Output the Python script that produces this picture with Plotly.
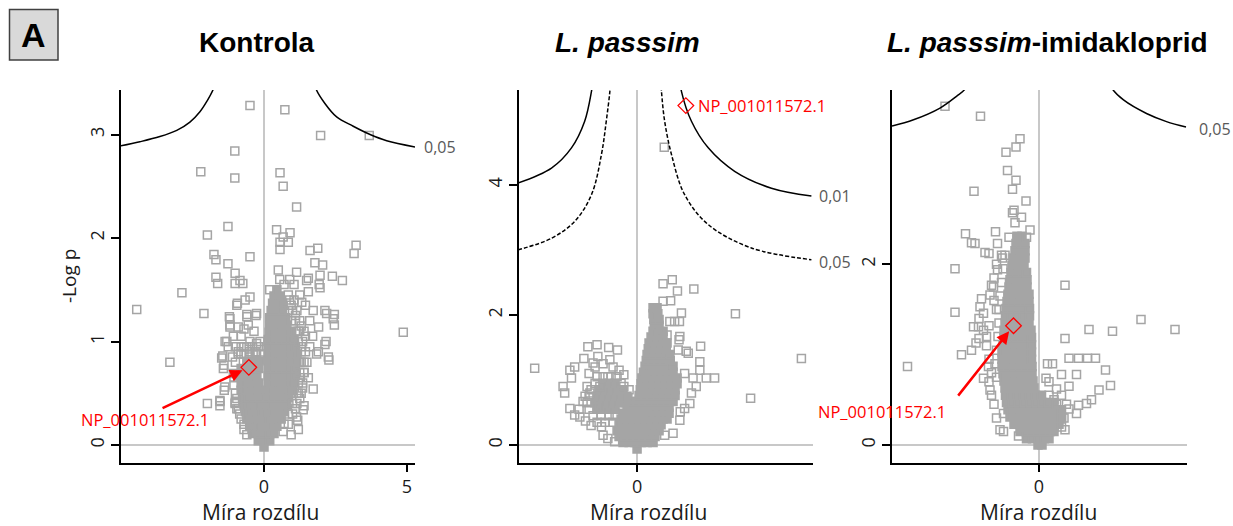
import plotly.graph_objects as go

W, H = 1233, 526
GRAY = '#a5a5a5'

# ---------------- Panel 1: Kontrola ----------------
k_out_x = [-0.49,0.73,1.98,3.68,-1.02,-2.21,-1.02,0.56,0.67,1.14,-1.26,-1.98,0.44,0.91,0.67,0.56,0.85,0.56,1.61,1.88,3.22,3.15,-1.75,-1.68,-0.49,-1.26,1.78,2.05,-1.01,-0.84,-1.68,-1.62,-1.01,-0.74,0.50,1.14,1.55,1.96,2.39,2.74,1.93,-2.87,-4.45,-2.10,-0.49,-0.66,-0.93,-0.26,-0.60,-1.21,-1.19,-0.55,2.13,2.46,2.46,4.87,-1.30,-1.44,-1.40,-3.29,2.25,2.17,1.90,1.72,-1.37,-1.98,-1.54,-1.54,-1.01,1.40,1.14,0.67,-0.26,
            1.72,2.19,2.42,1.91,2.13,1.84,2.27,1.37,1.18,1.49,1.96,1.55,1.32,-1.36,-1.25,-1.48,-1.42,-1.19,-1.19,-0.90,-0.60,-0.28,-0.95,-1.07,-0.49,-0.14,-0.26,-1.07,-1.39,-1.01,-0.90,-1.54,
            1.30,1.45,1.60,1.50,1.40,1.55,1.35,1.25,1.60,1.45,1.25,1.05,0.90,1.70,1.20,0.95,-0.70,-0.90,-1.10,-0.50,-0.80,-0.35,-0.70,
            1.10,1.20,1.25,1.30,1.30,1.20,1.10,0.95,0.85,0.70,0.55,0.20,-1.00,-1.05,-1.00,-0.80,-0.50,-0.30,-0.15,-0.95,-0.80,-0.70]
k_out_y = [3.28,3.24,2.99,2.99,2.84,2.64,2.58,2.63,2.50,2.30,2.11,2.03,2.08,2.05,2.01,1.96,1.96,1.89,1.88,1.90,1.93,1.85,1.84,1.79,1.82,1.75,1.76,1.74,1.66,1.59,1.62,1.56,1.56,1.56,1.69,1.67,1.61,1.64,1.63,1.59,1.55,1.47,1.31,1.27,1.43,1.40,1.37,1.27,1.26,1.24,1.16,1.16,1.30,1.26,1.16,1.09,1.00,0.86,0.77,0.80,0.85,1.00,0.90,0.54,0.56,0.40,0.43,0.38,0.41,0.38,0.27,0.13,0.98,
            1.30,1.27,1.22,1.14,0.97,0.88,0.82,0.34,0.24,1.59,1.52,1.48,1.38,1.00,0.95,0.84,0.74,1.22,1.14,1.14,1.24,1.25,1.35,1.05,1.00,1.00,0.89,0.69,0.53,0.40,0.35,0.42,
            1.15,1.05,0.95,0.80,0.70,0.65,0.55,0.45,1.20,1.35,1.45,1.55,1.60,1.05,0.15,0.10,0.95,0.90,0.85,0.90,1.05,1.10,1.12,
            0.35,0.50,0.65,0.80,0.95,1.10,1.25,1.35,1.45,1.55,1.60,1.50,0.50,0.65,0.80,0.88,0.85,0.90,0.82,0.35,0.25,0.15]
k_core = [
    (-0.02, [0.0]),
    (0.04, [-0.2, 0.0, 0.2]),
    (0.11, [-0.4, -0.2, 0.0, 0.2, 0.35]),
    (0.18, [-0.5, -0.3, -0.1, 0.1, 0.3, 0.45]),
    (0.25, [-0.6, -0.4, -0.2, 0.0, 0.2, 0.4, 0.6]),
    (0.32, [-0.65, -0.45, -0.25, -0.05, 0.15, 0.35, 0.55, 0.7]),
    (0.39, [-0.7, -0.5, -0.3, -0.1, 0.1, 0.3, 0.5, 0.7, 0.8]),
    (0.46, [-0.75, -0.55, -0.35, -0.15, 0.1, 0.3, 0.5, 0.7, 0.85]),
    (0.53, [-0.8, -0.6, -0.4, -0.2, 0.12, 0.3, 0.5, 0.7, 0.9, 1.0]),
    (0.60, [-0.8, -0.6, -0.4, -0.2, 0.15, 0.35, 0.55, 0.75, 0.95, 1.05]),
    (0.67, [-0.85, -0.65, -0.45, -0.25, 0.15, 0.35, 0.55, 0.75, 0.95, 1.1]),
    (0.74, [-0.8, -0.6, -0.4, -0.2, 0.15, 0.35, 0.55, 0.75, 0.95, 1.1]),
    (0.81, [-0.6, -0.4, -0.2, 0.15, 0.35, 0.55, 0.75, 0.95, 1.15]),
    (0.88, [0.15, 0.35, 0.55, 0.75, 0.95, 1.15]),
    (0.95, [0.15, 0.35, 0.55, 0.75, 0.95, 1.1]),
    (1.02, [0.15, 0.35, 0.55, 0.75, 0.95, 1.05]),
    (1.09, [0.18, 0.35, 0.55, 0.75, 0.95]),
    (1.16, [0.2, 0.4, 0.6, 0.8]),
    (1.23, [0.2, 0.4, 0.6, 0.75]),
    (1.30, [0.25, 0.45, 0.65]),
    (1.37, [0.3, 0.5, 0.65]),
    (1.44, [0.35, 0.55]),
    (1.50, [0.45]),
]
k_semi = [
    (1.40, [0.9, 1.05]),
    (1.30, [0.85, 1.0, 1.15]),
    (1.20, [0.95, 1.1, 1.25]),
    (1.10, [1.1, 1.25, 1.4]),
    (1.00, [1.2, 1.35]),
    (0.90, [1.3, 1.45]),
    (0.80, [1.25, 1.4]),
    (0.70, [1.25, 1.4]),
    (0.60, [1.2, 1.35]),
    (0.50, [1.15, 1.3]),
    (0.40, [1.0, 1.15]),
    (0.30, [0.85, 1.0]),
    (0.20, [0.7, 0.85]),
    (0.88, [-0.9, -0.7, -0.5, -0.3, -0.1]),
    (0.95, [-1.0, -0.8, -0.6, -0.4, -0.2]),
    (0.58, [-1.05]),
    (0.45, [-0.95]),
    (0.30, [-0.85]),
    (0.20, [-0.7]),
    (0.10, [-0.6]),
]
k_curve_l_x = [-5.01, -4.34, -3.64, -3.05, -2.59, -2.24, -2.0, -1.77, -1.6]
k_curve_l_y = [2.89, 2.93, 2.98, 3.04, 3.12, 3.22, 3.32, 3.44, 3.6]
k_curve_r_x = [1.7, 1.82, 2.13, 2.54, 3.12, 3.71, 4.29, 5.28]
k_curve_r_y = [3.6, 3.44, 3.30, 3.17, 3.08, 3.0, 2.94, 2.88]
k_np = (-0.53, 0.75)

# ---------------- Panel 2: L. passsim ----------------
p_out_x = [-2.56,4.11,2.46,2.84,1.42,0.88,0.65,1.01,0.65,0.84,1.11,1.59,1.07,1.94,1.73,1.57,1.57,1.28,1.48,1.32,1.07,0.90,0.69,0.68,
           -1.23,-1.00,-0.71,-0.49,-1.33,-1.56,-1.68,-1.64,-1.85,-1.81,-1.68,-1.56,-1.43,-1.29,-1.35,-1.18,-1.10,-0.98,-0.68,-0.33,-0.33,-0.23,-0.73,-0.93,-0.98,-0.89,-0.73,-0.56,
           0.82,0.94,1.06,0.75,1.05,1.03,1.23,0.86,1.19,1.40,1.36,1.19,1.08,
           -1.2,-1.05,-0.85,-0.6,-0.45,-1.25,-1.3,-1.45,-1.15,-0.85]
p_out_y = [1.18,1.33,2.02,0.72,2.40,2.54,2.48,2.37,2.21,2.22,2.03,1.52,1.67,1.03,1.03,1.28,1.15,1.41,0.90,0.64,0.38,0.18,0.15,4.58,
           1.51,1.54,1.50,1.46,1.33,1.20,1.15,1.03,0.90,0.80,0.56,0.46,0.43,0.37,0.67,0.80,1.26,1.36,1.31,1.08,0.90,0.72,1.05,0.90,0.59,0.28,0.10,0.05,
           1.90,1.90,1.90,1.69,1.62,1.46,1.44,1.20,1.10,1.03,0.80,0.56,0.51,
           1.1,1.2,1.25,1.2,1.15,0.9,0.75,0.55,0.3,0.15]
p_core = [
    (-0.06, [0.0]),
    (0.04, [-0.35, -0.2, -0.05, 0.1, 0.25, 0.4]),
    (0.13, [-0.45, -0.3, -0.15, 0.0, 0.15, 0.3, 0.45]),
    (0.22, [-0.5, -0.35, -0.2, -0.05, 0.1, 0.25, 0.4, 0.55]),
    (0.31, [-0.45, -0.3, -0.15, 0.0, 0.15, 0.3, 0.45, 0.6]),
    (0.40, [-0.4, -0.25, -0.1, 0.05, 0.2, 0.35, 0.5, 0.65, 0.75]),
    (0.49, [-0.35, -0.2, -0.05, 0.1, 0.25, 0.4, 0.55, 0.7, 0.8]),
    (0.58, [-0.25, -0.1, 0.05, 0.2, 0.35, 0.5, 0.65, 0.8]),
    (0.67, [-0.15, 0.0, 0.15, 0.3, 0.45, 0.6, 0.75, 0.9]),
    (0.76, [0.05, 0.2, 0.35, 0.5, 0.65, 0.8, 0.95]),
    (0.85, [0.08, 0.2, 0.35, 0.5, 0.65, 0.8, 0.95]),
    (0.94, [0.1, 0.25, 0.4, 0.55, 0.7, 0.85, 1.0]),
    (1.03, [0.12, 0.25, 0.4, 0.55, 0.7, 0.85, 1.0]),
    (1.12, [0.16, 0.3, 0.45, 0.6, 0.75, 0.9]),
    (1.21, [0.2, 0.33, 0.48, 0.63, 0.78, 0.9]),
    (1.30, [0.23, 0.38, 0.53, 0.68, 0.83]),
    (1.39, [0.25, 0.4, 0.55, 0.7, 0.82]),
    (1.48, [0.28, 0.43, 0.58, 0.73]),
    (1.57, [0.3, 0.45, 0.6, 0.75]),
    (1.66, [0.35, 0.5, 0.65]),
    (1.75, [0.4, 0.52, 0.65]),
    (1.84, [0.43, 0.55]),
    (1.93, [0.42, 0.55]),
    (2.02, [0.4, 0.52]),
    (2.11, [0.4, 0.5]),
    (0.55, [-1.0, -0.85, -0.7, -0.55]),
    (0.65, [-1.05, -0.9, -0.75, -0.6, -0.45, -0.3]),
    (0.75, [-1.0, -0.85, -0.7, -0.55, -0.4, -0.25]),
    (0.85, [-0.95, -0.8, -0.65, -0.5, -0.35]),
    (0.95, [-0.85, -0.7, -0.55]),
]
p_semi = [
    (0.35, [-1.0, -0.8, -0.6]),
    (0.45, [-1.1, -0.9, -0.7, -0.55]),
    (0.55, [-1.2]),
    (0.65, [-1.25]),
    (0.75, [-1.2]),
    (0.85, [-1.15, -0.2]),
    (0.95, [-1.05, -0.4]),
    (1.05, [-1.0, -0.85, -0.65, -0.5]),
]
p_c01_l_x = [-2.98, -2.14, -1.64, -1.31, -1.14, -1.08]
p_c01_l_y = [4.03, 4.26, 4.57, 4.98, 5.44, 5.7]
p_c01_r_x = [1.05, 1.11, 1.36, 1.78, 2.44, 3.36, 4.36]
p_c01_r_y = [5.7, 5.44, 4.98, 4.57, 4.21, 3.95, 3.83]
p_c05_l_x = [-2.98, -2.14, -1.56, -1.14, -0.89, -0.77, -0.68, -0.65]
p_c05_l_y = [3.0, 3.18, 3.44, 3.85, 4.47, 4.98, 5.44, 5.7]
p_c05_r_x = [0.58, 0.61, 0.69, 0.86, 1.19, 1.78, 2.86, 4.36]
p_c05_r_y = [5.7, 5.44, 4.98, 4.47, 3.85, 3.39, 3.03, 2.85]
p_np = (1.22, 5.22)

# ---------------- Panel 3: L. passsim-imidakloprid ----------------
i_out_x = [-1.88,-1.17,-0.38,-0.46,-0.66,-0.63,-0.46,-0.53,-1.30,-0.26,-0.50,-0.53,-0.35,-0.48,-0.18,-0.87,-1.47,-1.35,-1.28,-0.83,-1.08,-1.00,-0.75,-0.73,-1.68,-0.83,0.52,-0.95,
           -1.68,-2.63,2.04,2.72,1.47,1.00,0.52,0.60,0.79,0.97,1.13,0.17,0.27,1.33,1.43,1.20,1.05,0.95,0.75,0.79,0.45,0.75,0.14,0.60,0.52,-0.78,-0.71,-0.41,
           -1.55,-1.35,-1.26,-1.31,-1.21,-1.11,-1.15,-1.18,-1.11,-0.91,-0.98,-1.05,-1.11,-0.98,-1.01,-0.71,
           -1.2,-1.0,-1.2,-1.05,-1.0,-0.95,-1.0,-0.95,-0.9,-0.85,-0.9,-0.9,-0.85,-0.85,0.3,0.45,0.6,0.45,0.35,0.2,
           -0.85,-0.88,-0.85,-0.82,-0.8,-0.8,-0.78,-0.75,-0.72,-0.68,-0.6,-0.25,0.3,0.45,0.5,0.55,0.2,0.35]
i_out_y = [3.75,3.64,3.39,3.30,3.24,3.04,2.93,2.83,2.81,2.70,2.60,2.57,2.52,2.46,2.38,2.36,2.34,2.24,2.23,2.23,2.13,2.12,2.10,2.07,1.95,1.94,1.77,1.77,
           1.47,0.87,1.39,1.28,1.26,1.28,1.18,0.96,0.96,0.96,0.96,0.90,0.90,0.83,0.66,0.61,0.50,0.46,0.35,0.44,0.78,0.78,0.74,0.65,0.17,0.17,0.15,0.10,
           1.0,1.05,1.13,1.31,1.31,1.27,1.62,1.53,1.46,1.75,1.66,1.20,0.74,0.61,0.87,0.35,
           1.4,1.32,1.18,1.1,0.95,0.8,0.7,0.55,0.45,1.5,1.6,1.85,2.0,0.3,0.5,0.55,0.4,0.3,0.62,0.7,
           0.75,0.9,1.05,1.2,1.35,1.5,1.65,1.8,1.95,2.1,2.3,2.3,0.2,0.2,0.3,0.45,0.55,0.45]
i_core = [
    (0.0, [-0.02, 0.06]),
    (0.07, [-0.25, -0.13, -0.01, 0.11, 0.2]),
    (0.15, [-0.38, -0.26, -0.14, -0.02, 0.1, 0.22, 0.3]),
    (0.23, [-0.5, -0.38, -0.26, -0.14, -0.02, 0.1, 0.22, 0.34, 0.4]),
    (0.31, [-0.58, -0.46, -0.34, -0.22, -0.1, 0.02, 0.14, 0.26, 0.38, 0.45]),
    (0.39, [-0.62, -0.5, -0.38, -0.26, -0.14, -0.02, 0.1, 0.22, 0.34, 0.45]),
    (0.47, [-0.65, -0.53, -0.41, -0.29, -0.17, -0.05, 0.07, 0.19, 0.3]),
    (0.55, [-0.67, -0.55, -0.43, -0.31, -0.19, -0.07, 0.05]),
    (0.63, [-0.68, -0.56, -0.44, -0.32, -0.2, -0.1]),
    (0.71, [-0.7, -0.58, -0.46, -0.34, -0.22, -0.12]),
    (0.79, [-0.72, -0.6, -0.48, -0.36, -0.24, -0.14]),
    (0.87, [-0.74, -0.62, -0.5, -0.38, -0.26, -0.14]),
    (0.95, [-0.74, -0.62, -0.5, -0.38, -0.26, -0.15]),
    (1.03, [-0.74, -0.62, -0.5, -0.38, -0.26, -0.15]),
    (1.11, [-0.72, -0.6, -0.48, -0.36, -0.24, -0.15]),
    (1.19, [-0.7, -0.58, -0.46, -0.34, -0.22, -0.15]),
    (1.27, [-0.7, -0.58, -0.46, -0.34, -0.22, -0.16]),
    (1.35, [-0.68, -0.56, -0.44, -0.32, -0.2]),
    (1.43, [-0.67, -0.55, -0.43, -0.31, -0.19]),
    (1.51, [-0.66, -0.54, -0.42, -0.3, -0.19]),
    (1.59, [-0.64, -0.52, -0.4, -0.28, -0.2]),
    (1.67, [-0.62, -0.5, -0.38, -0.26, -0.2]),
    (1.75, [-0.6, -0.48, -0.36, -0.24]),
    (1.83, [-0.58, -0.46, -0.34, -0.24]),
    (1.91, [-0.56, -0.44, -0.32, -0.25]),
    (1.99, [-0.54, -0.42, -0.3]),
    (2.07, [-0.52, -0.4, -0.28]),
    (2.15, [-0.48, -0.38, -0.28]),
    (2.23, [-0.46, -0.36, -0.28]),
    (2.31, [-0.44, -0.34]),
]
i_semi = []
i_curve_l_x = [-2.94, -2.51, -1.98, -1.65, -1.48, -1.35]
i_curve_l_y = [3.53, 3.60, 3.73, 3.86, 3.94, 4.1]
i_curve_r_x = [1.35, 1.47, 1.69, 2.15, 2.55, 2.94]
i_curve_r_y = [4.1, 3.94, 3.82, 3.67, 3.58, 3.52]
i_np = (-0.51, 1.32)

titles = ['<b>Kontrola</b>', '<b><i>L. passsim</i></b>', '<b><i>L. passsim</i>-imidakloprid</b>']
title_cx = [257, 627, 1047]
xtitle_cx = [260, 648, 1038]
np_label = 'NP_001011572.1'

# pixel layout of the three panels
boxes = [(121, 415), (518.7, 813), (892, 1187)]
TOP, BOT = 90, 463
ranges = [
    dict(x=[-5.0, 5.28], y=[-0.174, 3.43], xt=[0, 5], yt=[0, 1, 2, 3]),
    dict(x=[-2.96, 4.40], y=[-0.277, 5.46], xt=[0], yt=[0, 2, 4]),
    dict(x=[-2.94, 2.96], y=[-0.199, 3.93], xt=[0], yt=[0, 2]),
]

fig = go.Figure()


def flatten(rows):
    xs, ys = [], []
    for yv, xl in rows:
        for xv in xl:
            xs.append(xv)
            ys.append(yv)
    return xs, ys


panel_data = [
    (k_core, k_semi, k_out_x, k_out_y,
     [(k_curve_l_x, k_curve_l_y, 'solid'), (k_curve_r_x, k_curve_r_y, 'solid')], k_np),
    (p_core, p_semi, p_out_x, p_out_y,
     [(p_c01_l_x, p_c01_l_y, 'solid'), (p_c01_r_x, p_c01_r_y, 'solid'),
      (p_c05_l_x, p_c05_l_y, '4px,2px'), (p_c05_r_x, p_c05_r_y, '4px,2px')], p_np),
    (i_core, i_semi, i_out_x, i_out_y,
     [(i_curve_l_x, i_curve_l_y, 'solid'), (i_curve_r_x, i_curve_r_y, 'solid')], i_np),
]

open_marker = dict(symbol='square-open', size=8, color=GRAY, line=dict(color=GRAY, width=1.5))
for i, (core, semi, ox, oy, curves, npp) in enumerate(panel_data, start=1):
    xa = 'x' if i == 1 else f'x{i}'
    ya = 'y' if i == 1 else f'y{i}'
    cx, cy = flatten(core)
    fig.add_trace(go.Scatter(x=cx, y=cy, mode='markers', xaxis=xa, yaxis=ya,
                             marker=dict(symbol='square', size=8, color=GRAY,
                                         line=dict(color=GRAY, width=1.5)),
                             hoverinfo='skip', showlegend=False))
    sx, sy = flatten(semi)
    fig.add_trace(go.Scatter(x=ox + sx, y=oy + sy, mode='markers', xaxis=xa, yaxis=ya,
                             marker=open_marker, hoverinfo='skip', showlegend=False))
    for cxs, cys, dash in curves:
        fig.add_trace(go.Scatter(x=cxs, y=cys, mode='lines', xaxis=xa, yaxis=ya,
                                 line=dict(color='black', width=1.5, dash=dash, shape='spline'),
                                 hoverinfo='skip', showlegend=False))
    fig.add_trace(go.Scatter(x=[npp[0]], y=[npp[1]], mode='markers', xaxis=xa, yaxis=ya,
                             marker=dict(symbol='diamond-open', size=12, color='red',
                                         line=dict(color='red', width=1.3)),
                             hoverinfo='skip', showlegend=False, cliponaxis=False))

layout = dict(width=W, height=H, margin=dict(l=0, r=0, t=0, b=0),
              paper_bgcolor='white', plot_bgcolor='white', showlegend=False)
tickfont = dict(family='Open Sans', size=18, color='#1a1a1a')
for i, ((l, r), rg) in enumerate(zip(boxes, ranges), start=1):
    s = '' if i == 1 else str(i)
    layout['xaxis' + s] = dict(domain=[l / W, r / W], range=rg['x'], anchor='y' + s,
                               showline=True, linecolor='black', linewidth=1.5,
                               ticks='outside', ticklen=7, tickwidth=1.5, tickcolor='black',
                               tickvals=rg['xt'], showgrid=False, zeroline=True,
                               zerolinecolor='#c8c8c8', zerolinewidth=1.5, tickfont=tickfont)
    layout['yaxis' + s] = dict(domain=[1 - BOT / H, 1 - TOP / H], range=rg['y'], anchor='x' + s,
                               showline=True, linecolor='black', linewidth=1.5,
                               ticks='outside', ticklen=8, tickwidth=1.5, tickcolor='black',
                               tickvals=rg['yt'], tickangle=-90, showgrid=False, zeroline=True,
                               zerolinecolor='#c8c8c8', zerolinewidth=1.5, tickfont=tickfont)

annotations = []
for t, cxp in zip(titles, title_cx):
    annotations.append(dict(text=t, x=cxp / W, y=1 - 43 / H, xref='paper', yref='paper',
                            showarrow=False, xanchor='center', yanchor='middle',
                            font=dict(family='Liberation Sans, Arial', size=28, color='black')))
for cxp in xtitle_cx:
    annotations.append(dict(text='Míra rozdílu', x=cxp / W, y=1 - 512 / H, xref='paper', yref='paper',
                            showarrow=False, xanchor='center', yanchor='middle',
                            font=dict(family='Open Sans', size=21, color='#1a1a1a')))
annotations.append(dict(text='-Log p', x=69 / W, y=1 - 276 / H, xref='paper', yref='paper',
                        showarrow=False, textangle=-90, xanchor='center', yanchor='middle',
                        font=dict(family='Open Sans', size=19, color='#1a1a1a')))
lab = dict(family='Open Sans', size=16, color='#595959')
annotations += [
    dict(text='0,05', x=k_curve_r_x[-1], y=k_curve_r_y[-1], xref='x', yref='y', showarrow=False,
         xanchor='left', xshift=7, font=lab),
    dict(text='0,01', x=p_c01_r_x[-1], y=p_c01_r_y[-1], xref='x2', yref='y2', showarrow=False,
         xanchor='left', xshift=6, font=lab),
    dict(text='0,05', x=p_c05_r_x[-1], y=p_c05_r_y[-1], xref='x2', yref='y2', showarrow=False,
         xanchor='left', xshift=6, yshift=-2, font=lab),
    dict(text='0,05', x=i_curve_r_x[-1], y=i_curve_r_y[-1], xref='x3', yref='y3', showarrow=False,
         xanchor='left', xshift=11, yshift=-2, font=lab),
]
npfont = dict(family='Open Sans', size=16.5, color='red')
annotations += [
    dict(text='', x=k_np[0], y=k_np[1], xref='x', yref='y', ax=-3.60, ay=0.35, axref='x', ayref='y',
         showarrow=True, arrowhead=2, arrowsize=1, arrowwidth=2.5, arrowcolor='red', standoff=7),
    dict(text=np_label, x=144.5 / W, y=1 - 419 / H, xref='paper', yref='paper', showarrow=False,
         xanchor='center', yanchor='middle', font=npfont),
    dict(text=np_label, x=p_np[0], y=p_np[1], xref='x2', yref='y2', showarrow=False,
         xanchor='left', xshift=10, font=npfont),
    dict(text='', x=i_np[0], y=i_np[1], xref='x3', yref='y3', ax=-1.64, ay=0.53, axref='x3', ayref='y3',
         showarrow=True, arrowhead=2, arrowsize=1, arrowwidth=2.5, arrowcolor='red', standoff=7),
    dict(text=np_label, x=881.5 / W, y=1 - 411 / H, xref='paper', yref='paper', showarrow=False,
         xanchor='center', yanchor='middle', font=npfont),
]
annotations.append(dict(text='<b>A</b>', x=33.5 / W, y=1 - 35 / H, xref='paper', yref='paper',
                        showarrow=False, xanchor='center', yanchor='middle',
                        font=dict(family='Liberation Sans, Arial', size=34, color='black')))
layout['annotations'] = annotations
layout['shapes'] = [dict(type='rect', xref='paper', yref='paper', x0=9.5 / W, x1=58 / W,
                         y0=1 - 60 / H, y1=1 - 9.5 / H, fillcolor='#d9d9d9',
                         line=dict(color='#404040', width=1.5), layer='below')]
fig.update_layout(**layout)
fig.write_html('out.html', config={'displayModeBar': False},
               post_script="document.body.style.margin='0';document.body.style.overflow='hidden';")
